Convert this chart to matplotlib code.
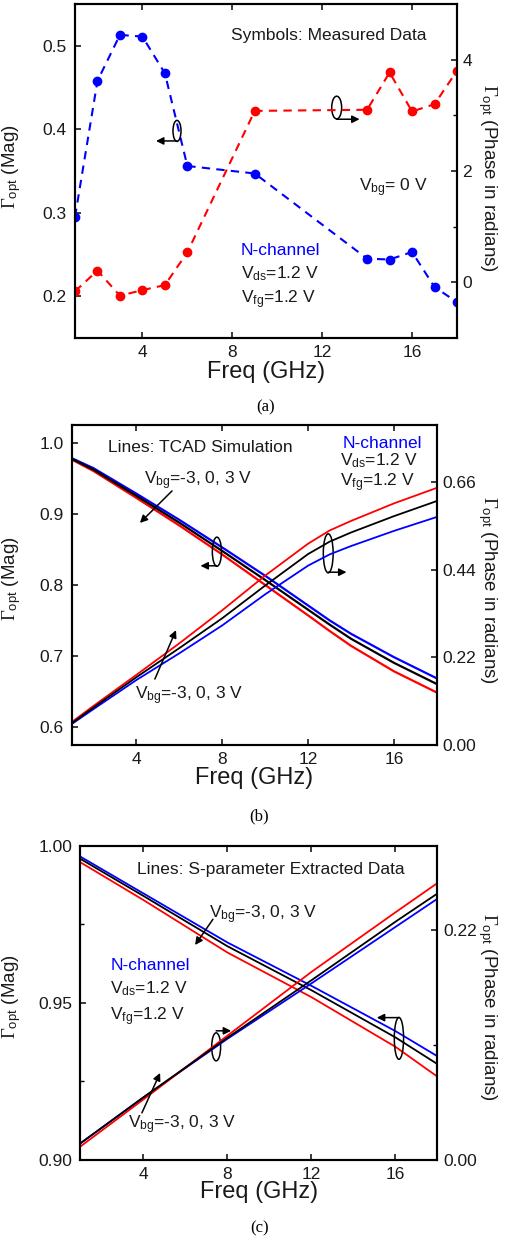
import matplotlib
matplotlib.use("Agg")
import matplotlib.pyplot as plt
from matplotlib.patches import Ellipse
from matplotlib.ticker import FixedLocator, FormatStrFormatter

plt.rcParams['font.family'] = ['Liberation Sans', 'DejaVu Sans']
plt.rcParams['mathtext.fontset'] = 'custom'
plt.rcParams['mathtext.rm'] = 'Liberation Serif'
plt.rcParams['mathtext.sf'] = 'Liberation Sans'
plt.rcParams['mathtext.it'] = 'Liberation Serif:italic'

# ---- (a) measured data, Vbg = 0 V
freq_a = [1, 2, 3, 4, 5, 6, 9, 14, 15, 16, 17, 18]
mag_a = [0.295, 0.458, 0.513, 0.511, 0.467, 0.356, 0.347, 0.245, 0.244, 0.253, 0.211, 0.193]
phase_a = [-0.16, 0.21, -0.24, -0.14, -0.05, 0.54, 3.08, 3.10, 3.77, 3.07, 3.20, 3.80]

# ---- (b) TCAD simulation, Vbg = -3, 0, 3 V
freq_b = [1, 2, 4, 6, 8, 10, 12, 13, 14, 16, 18]
mag_b_blue = [0.979, 0.965, 0.929, 0.892, 0.853, 0.813, 0.771, 0.750, 0.731, 0.698, 0.668]
mag_b_black = [0.978, 0.963, 0.926, 0.888, 0.848, 0.807, 0.765, 0.744, 0.724, 0.690, 0.660]
mag_b_red = [0.977, 0.961, 0.923, 0.884, 0.843, 0.800, 0.757, 0.735, 0.714, 0.678, 0.648]
ph_b_red = [0.058, 0.098, 0.176, 0.255, 0.338, 0.425, 0.505, 0.538, 0.562, 0.606, 0.645]
ph_b_black = [0.055, 0.094, 0.170, 0.243, 0.318, 0.400, 0.479, 0.510, 0.533, 0.574, 0.612]
ph_b_blue = [0.053, 0.090, 0.163, 0.230, 0.300, 0.378, 0.450, 0.478, 0.499, 0.537, 0.572]

# ---- (c) S-parameter extracted data
freq_c = [1, 4, 8, 12, 16, 18]
mag_c_blue = [0.9965, 0.9848, 0.9692, 0.9554, 0.9410, 0.9330]
mag_c_black = [0.9958, 0.9840, 0.9680, 0.9540, 0.9390, 0.9305]
mag_c_red = [0.9947, 0.9827, 0.9660, 0.9518, 0.9360, 0.9265]
ph_c_red = [0.013, 0.058, 0.119, 0.180, 0.237, 0.265]
ph_c_black = [0.016, 0.060, 0.117, 0.172, 0.228, 0.255]
ph_c_blue = [0.016, 0.060, 0.116, 0.169, 0.223, 0.250]

BLUE = '#0000ff'
RED = '#ff0000'
TXT = '#1a1a1a'

fig = plt.figure(figsize=(5.06, 12.41), dpi=100)
W, H = 506, 1241


def make_axes(left, right, top, bottom):
    ax = fig.add_axes([left / W, 1 - bottom / H, (right - left) / W, (bottom - top) / H])
    ax2 = ax.twinx()
    for a in (ax, ax2):
        for s in a.spines.values():
            s.set_linewidth(1.5)
    ax.tick_params(direction='in', top=True, right=False, labelsize=12.5,
                   length=4, width=1.2, colors=TXT)
    ax.tick_params(axis='y', pad=6)
    ax.tick_params(axis='x', pad=5)
    ax2.tick_params(direction='in', labelsize=12.5, length=4, width=1.2, pad=4, colors=TXT)
    ax2.tick_params(which='minor', direction='in', length=3, width=1.0)
    ax.tick_params(which='minor', direction='in', length=3, width=1.0)
    ax.set_xlim(1, 18)
    ax.xaxis.set_major_locator(FixedLocator([4, 8, 12, 16]))
    ax.set_xlabel('Freq (GHz)', fontsize=17, color=TXT)
    ax.xaxis.set_label_coords(0.5, -0.068)
    ax.set_ylabel(r'$\Gamma_{\mathsf{opt}}$ (Mag)', fontsize=13.5, color=TXT)
    ax2.set_ylabel(r'$\Gamma_{\mathsf{opt}}$ (Phase in radians)', fontsize=13.5,
                   color=TXT, rotation=270, va='center')
    return ax, ax2


def arrow(ax2, x0, y0, x1, y1):
    ax2.annotate('', xy=(x1, y1), xytext=(x0, y0), xycoords='axes fraction',
                 arrowprops=dict(arrowstyle='-|>', color='k', lw=1.1,
                                 mutation_scale=11, shrinkA=0, shrinkB=0))


def ring(ax2, cx, cy, w, h, x0, y0, x1, y1):
    ax2.add_patch(Ellipse((cx, cy), w, h, transform=ax2.transAxes, fill=False,
                          lw=1.1, ec='k'))
    arrow(ax2, x0, y0, x1, y1)


def vtext(ax2, x, y, s, **kw):
    ax2.text(x, y, s, transform=ax2.transAxes, fontsize=12.5, color=kw.pop('color', TXT),
             va='baseline', **kw)


def caption(x, y, s):
    fig.text(x, 1 - y / H, s, family='Liberation Serif', fontsize=12,
             ha='center', va='center')


# ================= (a)
ax, ax2 = make_axes(75, 457, 4, 338)
ax.set_ylim(0.15, 0.55)
ax.yaxis.set_major_locator(FixedLocator([0.2, 0.3, 0.4, 0.5]))
ax2.set_ylim(-1, 5)
ax2.yaxis.set_major_locator(FixedLocator([0, 2, 4]))
ax2.yaxis.set_minor_locator(FixedLocator([1, 3]))
ax.plot(freq_a, mag_a, ls=(0, (4, 3)), color=BLUE, lw=1.5, marker='o', ms=6)
ax2.plot(freq_a, phase_a, ls=(0, (4, 3)), color=RED, lw=1.5, marker='o', ms=6)
ax.yaxis.set_label_coords(-0.136, 0.512)
ax2.yaxis.set_label_coords(1.081, 0.479)
vtext(ax2, 0.408, 0.892, 'Symbols: Measured Data')
vtext(ax2, 0.743, 0.438, r'V$_{\mathsf{bg}}$= 0 V')
vtext(ax2, 0.434, 0.248, 'N-channel', color=BLUE)
vtext(ax2, 0.434, 0.179, r'V$_{\mathsf{ds}}$=1.2 V')
vtext(ax2, 0.434, 0.102, r'V$_{\mathsf{fg}}$=1.2 V')
ring(ax2, 0.267, 0.620, 0.021, 0.063, 0.267, 0.590, 0.212, 0.590)
ring(ax2, 0.685, 0.690, 0.026, 0.068, 0.685, 0.655, 0.745, 0.655)
caption(0.524, 407, '(a)')

# ================= (b)
ax, ax2 = make_axes(72, 437, 425, 745)
ax.set_ylim(0.574, 1.026)
ax.yaxis.set_major_locator(FixedLocator([0.6, 0.7, 0.8, 0.9, 1.0]))
ax2.set_ylim(0, 0.8025)
ax2.yaxis.set_major_locator(FixedLocator([0, 0.22, 0.44, 0.66]))
ax2.yaxis.set_major_formatter(FormatStrFormatter('%.2f'))
for m, p, c in ((mag_b_blue, ph_b_blue, BLUE), (mag_b_red, ph_b_red, RED),
                (mag_b_black, ph_b_black, 'k')):
    ax.plot(freq_b, m, color=c, lw=1.6)
    ax2.plot(freq_b, p, color=c, lw=1.3)
ax.yaxis.set_label_coords(-0.134, 0.52)
ax2.yaxis.set_label_coords(1.137, 0.484)
vtext(ax2, 0.099, 0.917, 'Lines: TCAD Simulation')
vtext(ax2, 0.959, 0.927, 'N-channel', color=BLUE, ha='right')
vtext(ax2, 0.946, 0.873, r'V$_{\mathsf{ds}}$=1.2 V', ha='right')
vtext(ax2, 0.940, 0.807, r'V$_{\mathsf{fg}}$=1.2 V', ha='right')
vtext(ax2, 0.197, 0.8125, r'V$_{\mathsf{bg}}$=-3, 0, 3 V')
arrow(ax2, 0.274, 0.794, 0.186, 0.694)
vtext(ax2, 0.173, 0.143, r'V$_{\mathsf{bg}}$=-3, 0, 3 V')
arrow(ax2, 0.227, 0.206, 0.285, 0.359)
ring(ax2, 0.397, 0.604, 0.025, 0.091, 0.396, 0.560, 0.352, 0.560)
ring(ax2, 0.702, 0.599, 0.027, 0.122, 0.702, 0.540, 0.752, 0.540)
caption(0.512, 816.7, '(b)')

# ================= (c)
ax, ax2 = make_axes(80.5, 437.5, 845.7, 1160)
ax.set_ylim(0.90, 1.00)
ax.yaxis.set_major_locator(FixedLocator([0.90, 0.95, 1.00]))
ax.yaxis.set_minor_locator(FixedLocator([0.925, 0.975]))
ax.yaxis.set_major_formatter(FormatStrFormatter('%.2f'))
ax2.set_ylim(0, 0.3007)
ax2.yaxis.set_major_locator(FixedLocator([0, 0.22]))
ax2.yaxis.set_minor_locator(FixedLocator([0.11]))
ax2.yaxis.set_major_formatter(FormatStrFormatter('%.2f'))
for m, p, c in ((mag_c_blue, ph_c_blue, BLUE), (mag_c_red, ph_c_red, RED),
                (mag_c_black, ph_c_black, 'k')):
    ax.plot(freq_c, m, color=c, lw=1.3)
    ax2.plot(freq_c, p, color=c, lw=1.3)
ax.yaxis.set_label_coords(-0.161, 0.52)
ax2.yaxis.set_label_coords(1.141, 0.488)
vtext(ax2, 0.158, 0.910, 'Lines: S-parameter Extracted Data')
vtext(ax2, 0.361, 0.769, r'V$_{\mathsf{bg}}$=-3, 0, 3 V')
arrow(ax2, 0.371, 0.766, 0.321, 0.684)
vtext(ax2, 0.083, 0.605, 'N-channel', color=BLUE)
vtext(ax2, 0.083, 0.528, r'V$_{\mathsf{ds}}$=1.2 V')
vtext(ax2, 0.083, 0.443, r'V$_{\mathsf{fg}}$=1.2 V')
vtext(ax2, 0.133, 0.101, r'V$_{\mathsf{bg}}$=-3, 0, 3 V')
arrow(ax2, 0.172, 0.150, 0.223, 0.277)
ring(ax2, 0.380, 0.360, 0.025, 0.089, 0.380, 0.411, 0.422, 0.411)
ring(ax2, 0.892, 0.387, 0.026, 0.133, 0.892, 0.453, 0.830, 0.453)
caption(0.512, 1228, '(c)')

fig.savefig('out.png', dpi=100)
